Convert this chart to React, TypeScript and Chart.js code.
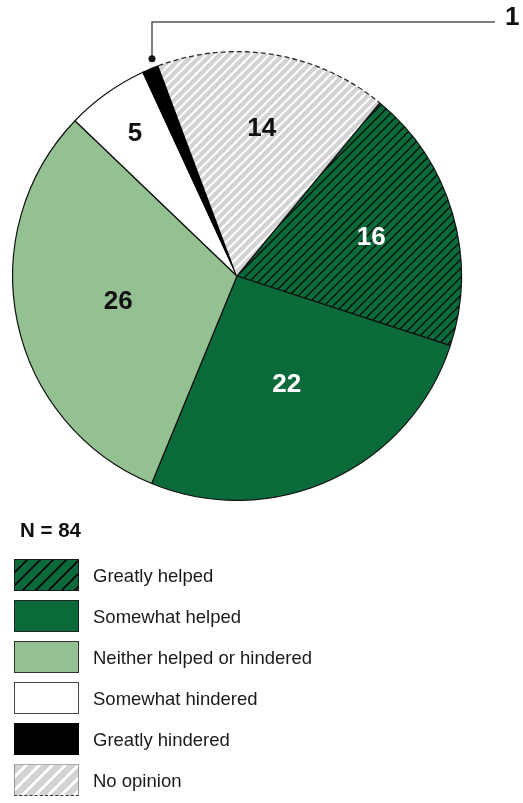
import React, { useEffect, useRef } from "react";
import { Chart, registerables } from "chart.js";

Chart.register(...registerables);

// ---- data ----
const categories = [
  "Greatly helped",
  "Somewhat helped",
  "Neither helped or hindered",
  "Somewhat hindered",
  "Greatly hindered",
  "No opinion",
];
const counts = [16, 22, 26, 5, 1, 14];
const sampleLabel = "N = " + counts.reduce((a, b) => a + b, 0);

// ---- styles ----
const DARK = "#0b6a3a";
const LIGHT = "#94c192";
const GREY = "#d3d3d3";
const solidColors = [DARK, DARK, LIGHT, "#ffffff", "#000000", GREY];
const labelColors = ["#ffffff", "#ffffff", "#111111", "#111111", "#111111", "#111111"];
const labelRadius = [0.623, 0.529, 0.541, 0.782, 0, 0.668];
const insideLabel = [true, true, true, true, false, true];
const FONT = '"Liberation Sans", Arial, Helvetica, sans-serif';

function hatch(bg: string, line: string, size: number, width: number) {
  const c = document.createElement("canvas");
  c.width = size;
  c.height = size;
  const g = c.getContext("2d")!;
  g.fillStyle = bg;
  g.fillRect(0, 0, size, size);
  g.strokeStyle = line;
  g.lineWidth = width;
  g.beginPath();
  g.moveTo(0, size);
  g.lineTo(size, 0);
  g.moveTo(-size / 2, size / 2);
  g.lineTo(size / 2, -size / 2);
  g.moveTo(size / 2, size * 1.5);
  g.lineTo(size * 1.5, size / 2);
  g.stroke();
  return g.createPattern(c, "repeat")!;
}

const piePlugin = {
  id: "pieDecor",
  afterDatasetsDraw(chart: any) {
    const ctx = chart.ctx;
    const meta = chart.getDatasetMeta(0);
    const arcs = meta.data;
    ctx.save();
    // No opinion: dashed outer arc and edge with greatly helped
    const no = arcs[5].getProps(["x", "y", "startAngle", "endAngle", "outerRadius"], true);
    ctx.setLineDash([5, 3]);
    ctx.strokeStyle = "#2a2a2a";
    ctx.lineWidth = 1.3;
    ctx.beginPath();
    ctx.arc(no.x, no.y, no.outerRadius, no.startAngle, no.endAngle);
    ctx.stroke();
    ctx.setLineDash([]);
    ctx.strokeStyle = "#111";
    ctx.lineWidth = 1.2;
    ctx.beginPath();
    ctx.moveTo(no.x, no.y);
    ctx.lineTo(no.x + no.outerRadius * Math.cos(no.endAngle), no.y + no.outerRadius * Math.sin(no.endAngle));
    ctx.stroke();

    // labels
    ctx.font = "bold 26px " + FONT;
    ctx.textAlign = "center";
    ctx.textBaseline = "middle";
    arcs.forEach((arc: any, i: number) => {
      const p = arc.getProps(["x", "y", "startAngle", "endAngle", "outerRadius"], true);
      const mid = (p.startAngle + p.endAngle) / 2;
      if (insideLabel[i]) {
        const r = p.outerRadius * labelRadius[i];
        ctx.fillStyle = labelColors[i];
        ctx.fillText(String(counts[i]), p.x + r * Math.cos(mid), p.y + r * Math.sin(mid) + 1);
      } else {
        const a = p.startAngle + (p.endAngle - p.startAngle) * 0.8;
        const r = p.outerRadius + 9;
        const dx = p.x + r * Math.cos(a);
        const dy = p.y + r * Math.sin(a);
        const topY = chart.chartArea.top - 29;
        const endX = chart.width - 28;
        ctx.strokeStyle = "#555";
        ctx.lineWidth = 1.5;
        ctx.beginPath();
        ctx.moveTo(dx, dy);
        ctx.lineTo(dx, topY);
        ctx.lineTo(endX, topY);
        ctx.stroke();
        ctx.fillStyle = "#111";
        ctx.beginPath();
        ctx.arc(dx, dy, 3.5, 0, Math.PI * 2);
        ctx.fill();
        ctx.textAlign = "left";
        ctx.fillText(String(counts[i]), endX + 10, topY - 4);
        ctx.textAlign = "center";
      }
    });
    ctx.restore();
  },
};

const swatchStyles: React.CSSProperties[] = [
  {
    background: `repeating-linear-gradient(135deg, ${DARK} 0px, ${DARK} 7.6px, #111 7.6px, #111 9.2px)`,
    border: "1px solid #1a1a1a",
  },
  { background: DARK, border: "1.5px solid #222" },
  { background: LIGHT, border: "1.5px solid #333" },
  { background: "#fff", border: "1.5px solid #444" },
  { background: "#000", border: "1.5px solid #000" },
  {
    background: `repeating-linear-gradient(135deg, ${GREY} 0px, ${GREY} 7px, #fff 7px, #fff 9.2px)`,
    borderTop: "1px solid #aaa",
    borderLeft: "1px solid #999",
    borderRight: "1px solid #999",
    borderBottom: "1.5px dashed #333",
  },
];

export default function App() {
  const ref = useRef<HTMLCanvasElement | null>(null);
  useEffect(() => {
    if (!ref.current) return;
    const bg = solidColors.map((c, i) =>
      i === 0 ? hatch(DARK, "#0a0a0a", 9, 1.3) : i === 5 ? hatch(GREY, "#ffffff", 9, 2.2) : c
    );
    const chart = new Chart(ref.current, {
      type: "pie",
      data: {
        labels: categories,
        datasets: [
          {
            data: counts,
            backgroundColor: bg as any,
            borderColor: ["#111", "#111", "#111", "#111", "#000", "rgba(0,0,0,0)"],
            borderWidth: [1.2, 1.2, 1.2, 1.2, 1.2, 0],
          },
        ],
      },
      options: {
        responsive: false,
        animation: false,
        rotation: 39.5,
        layout: { padding: { left: 12, top: 51, right: 61, bottom: 302 } },
        plugins: { legend: { display: false }, tooltip: { enabled: false } },
        events: [],
      },
      plugins: [piePlugin],
    });
    return () => chart.destroy();
  }, []);

  return (
    <div
      style={{
        position: "absolute",
        left: 0,
        top: 0,
        width: 523,
        height: 803,
        background: "#fff",
        fontFamily: FONT,
        overflow: "hidden",
      }}
    >
      <canvas ref={ref} width={523} height={803} style={{ position: "absolute", left: 0, top: 0 }} />
      <div
        style={{
          position: "absolute",
          left: 20,
          top: 517.5,
          fontSize: 20.5,
          lineHeight: "24px",
          fontWeight: "bold",
          color: "#111",
          whiteSpace: "nowrap",
        }}
      >
        {sampleLabel}
      </div>
      {categories.map((c, i) => (
        <div key={c}>
          <div
            style={{
              position: "absolute",
              left: 14,
              top: 559 + i * 40.9,
              width: 65,
              height: 32,
              boxSizing: "border-box",
              ...swatchStyles[i],
            }}
          />
          <div
            style={{
              position: "absolute",
              left: 93,
              top: 559 + i * 40.9 + 1,
              height: 32,
              lineHeight: "32px",
              fontSize: 18.5,
              color: "#1a1a1a",
              whiteSpace: "nowrap",
            }}
          >
            {c}
          </div>
        </div>
      ))}
    </div>
  );
}
